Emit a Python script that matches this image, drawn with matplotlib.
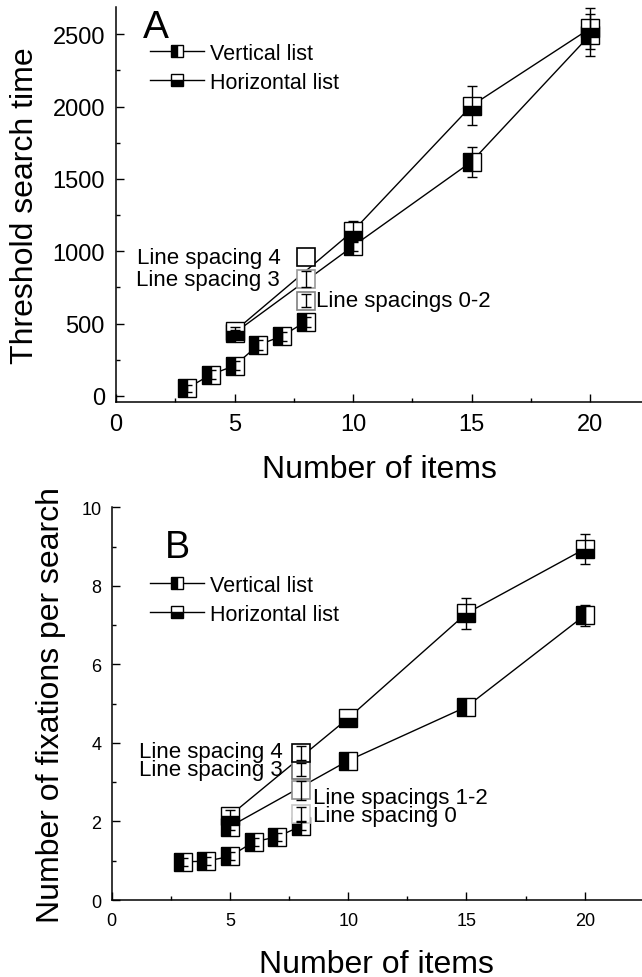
import numpy as np
import matplotlib
matplotlib.use("Agg")
import matplotlib.pyplot as plt

plt.rcParams["font.family"] = ["Liberation Sans", "DejaVu Sans"]

# ── data, panel A (threshold search time) ─────────────────────────────────────
a_short_x   = [3, 4, 5, 6, 7, 8]
a_short_y   = [53, 147, 209, 352, 413, 513]
a_short_err = [25, 30, 30, 35, 30, 35]

a_vert_x   = [5, 10, 15, 20]
a_vert_y   = [435, 1035, 1619, 2495]
a_vert_err = [20, 30, 104, 143]

a_horiz_x   = [5, 10, 15, 20]
a_horiz_y   = [447, 1140, 2006, 2540]
a_horiz_err = [30, 70, 133, 140]

a_ls_labels = ["Line spacings 0-2", "Line spacing 3", "Line spacing 4"]
a_ls_y      = [659, 808, 958]
a_ls_err    = [44, 55, 0]

# ── data, panel B (fixations per search) ──────────────────────────────────────
b_short_x   = [3, 4, 5, 6, 7, 8]
b_short_y   = [0.97, 0.99, 1.11, 1.48, 1.61, 1.88]
b_short_err = [0.1, 0.1, 0.1, 0.1, 0.1, 0.1]

b_vert_x   = [5, 10, 15, 20]
b_vert_y   = [1.87, 3.55, 4.92, 7.25]
b_vert_err = [0.1, 0, 0, 0.27]

b_horiz_x   = [5, 10, 15, 20]
b_horiz_y   = [2.15, 4.63, 7.30, 8.94]
b_horiz_err = [0.15, 0, 0.40, 0.38]

b_ls_labels = ["Line spacing 0", "Line spacings 1-2", "Line spacing 3", "Line spacing 4"]
b_ls_y      = [2.19, 2.79, 3.32, 3.74]
b_ls_err    = [0.18, 0.25, 0.16, 0.17]

ls_x = 8

W, H = 642, 978
fig = plt.figure(figsize=(W / 100, H / 100), dpi=100)


def px_axes(left, top, bottom):
    return fig.add_axes([left / W, 1 - bottom / H, 1 - left / W, (bottom - top) / H])


def series(ax, x, y, err, fill, line=True, ms=12.5):
    ax.plot(x, y, "-" if line else "none", color="black", lw=1.0,
            marker="s", ms=ms, fillstyle=fill, mfc="black", mfcalt="white",
            mec="black", mew=1.0, zorder=2)
    xe = [a for a, e in zip(x, err) if e > 0]
    ye = [b for b, e in zip(y, err) if e > 0]
    ee = [e for e in err if e > 0]
    if ee:
        ax.errorbar(xe, ye, yerr=ee, fmt="none", ecolor="black",
                    elinewidth=1.0, capsize=3.6, capthick=1.0, zorder=3)


def style(ax, ticksize, xpad, ypad):
    for s in ["top", "right"]:
        ax.spines[s].set_visible(False)
    for s in ["left", "bottom"]:
        ax.spines[s].set_linewidth(1.1)
    ax.tick_params(which="both", direction="in", width=1.0, labelsize=ticksize)
    ax.tick_params(which="major", length=6)
    ax.tick_params(which="minor", length=3)
    ax.tick_params(axis="x", pad=xpad)
    ax.tick_params(axis="y", pad=ypad)
    ax.set_xticks([0, 5, 10, 15, 20])
    ax.set_xticks(np.arange(2.5, 22, 5), minor=True)


def legend(ax, top):
    hv = plt.Line2D([], [], color="black", lw=1.0, marker="s", ms=8, fillstyle="left",
                    mfc="black", mfcalt="white", mec="black", mew=1.0)
    hh = plt.Line2D([], [], color="black", lw=1.0, marker="s", ms=8, fillstyle="bottom",
                    mfc="black", mfcalt="white", mec="black", mew=1.0)
    ax.legend([hv, hh], ["Vertical list", "Horizontal list"], loc="upper left",
              bbox_to_anchor=(150 / W, 1 - top / H), bbox_transform=fig.transFigure,
              frameon=False, fontsize=15.5, handlelength=2.5, handletextpad=0.28,
              labelspacing=0.37, borderpad=0, borderaxespad=0)


# ── panel A ───────────────────────────────────────────────────────────────────
axA = px_axes(116, 8.3, 402.7)
axA.set_xlim(0, 22.19)
axA.set_ylim(-40, 2686)
style(axA, 17, 8, 8)
axA.set_yticks([0, 500, 1000, 1500, 2000, 2500])
axA.set_yticks(np.arange(250, 2600, 500), minor=True)

series(axA, a_short_x, a_short_y, a_short_err, "left")
series(axA, a_vert_x, a_vert_y, a_vert_err, "left")
series(axA, a_horiz_x, a_horiz_y, a_horiz_err, "bottom")

a_edges = ["#808080", "#9a9a9a", "black"]
for v, e, c in zip(a_ls_y, a_ls_err, a_edges):
    axA.plot([ls_x], [v], "s", ms=12.5, mfc="white", mec=c, mew=1.2, zorder=2)
    if e > 0:
        axA.errorbar([ls_x], [v], yerr=[e], fmt="none", ecolor="black",
                     elinewidth=1.0, capsize=3.6, capthick=1.0, zorder=3)

axA.text(6.95, a_ls_y[2], a_ls_labels[2], ha="right", va="center", fontsize=16)
axA.text(6.9, a_ls_y[1], a_ls_labels[1], ha="right", va="center", fontsize=16)
axA.text(8.45, a_ls_y[0], a_ls_labels[0], ha="left", va="center", fontsize=16)

axA.set_xlabel("Number of items", fontsize=23, labelpad=14)
axA.set_ylabel("Threshold search time", fontsize=23, labelpad=9)
legend(axA, 44)

# ── panel B ───────────────────────────────────────────────────────────────────
axB = px_axes(111.7, 508.3, 901)
axB.set_xlim(0, 22.42)
axB.set_ylim(0, 10)
style(axB, 13, 9, 7.5)
axB.set_yticks([0, 2, 4, 6, 8, 10])
axB.set_yticks([1, 3, 5, 7, 9], minor=True)

series(axB, b_short_x, b_short_y, b_short_err, "left")
series(axB, b_vert_x, b_vert_y, b_vert_err, "left")
series(axB, b_horiz_x, b_horiz_y, b_horiz_err, "bottom")

b_edges = ["#c8c8c8", "#909090", "#707070", "black"]
for v, e, c in zip(b_ls_y, b_ls_err, b_edges):
    axB.plot([ls_x], [v], "s", ms=12.5, mfc="white", mec=c, mew=1.2, zorder=2)
    axB.errorbar([ls_x], [v], yerr=[e], fmt="none", ecolor="black",
                 elinewidth=1.0, capsize=3.6, capthick=1.0, zorder=3)

# paired labels sit tight together, so each pair is one two-line text
axB.text(7.24, (b_ls_y[3] + b_ls_y[2]) / 2 + 0.02,
         b_ls_labels[3] + "\n" + b_ls_labels[2],
         ha="right", va="center", fontsize=16, linespacing=0.78)
axB.text(8.5, (b_ls_y[1] + b_ls_y[0]) / 2 - 0.1,
         b_ls_labels[1] + "\n" + b_ls_labels[0],
         ha="left", va="center", fontsize=16, linespacing=0.8)

axB.set_xlabel("Number of items", fontsize=23, labelpad=14)
axB.set_ylabel("Number of fixations per search", fontsize=23, labelpad=11)
legend(axB, 576)

fig.text(143 / W, 1 - 38 / H, "A", fontsize=28, va="baseline")
fig.text(165 / W, 1 - 558 / H, "B", fontsize=27, va="baseline")

fig.savefig("out.png", dpi=100, facecolor="white")
